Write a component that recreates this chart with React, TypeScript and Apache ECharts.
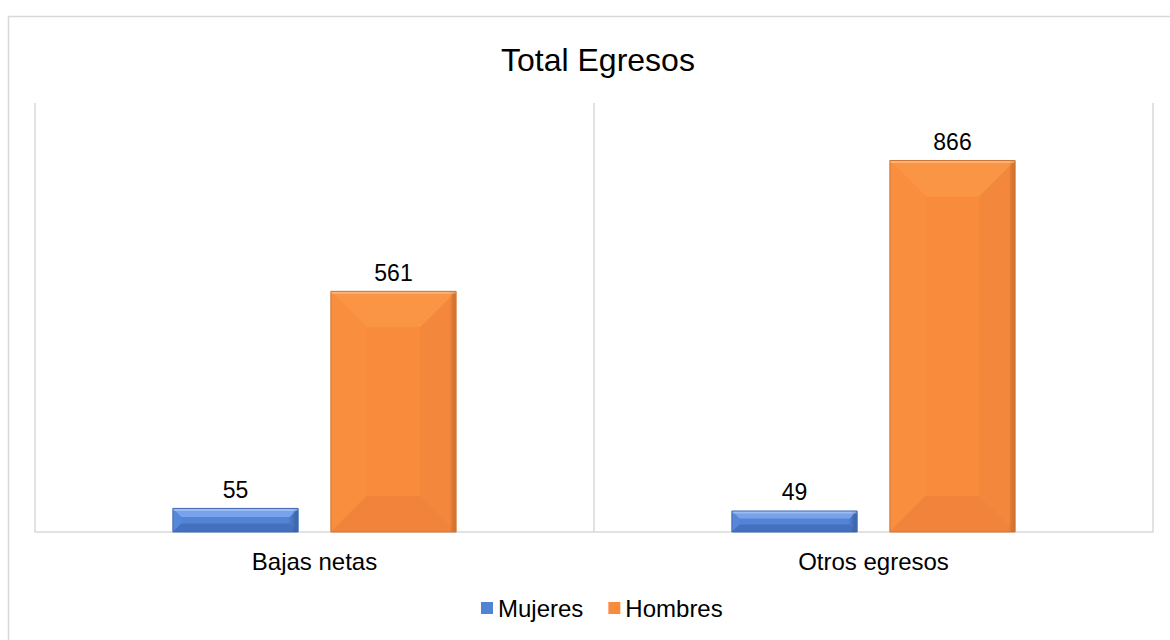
import React, { useEffect, useRef } from "react";
import * as echarts from "echarts";

const categories = ["Bajas netas", "Otros egresos"];
const mujeres = [55, 49];
const hombres = [561, 866];
const seriesNames = ["Mujeres", "Hombres"];

const palettes = [
  { main: "#5283d4", top: "#78a3ec", bottom: "#4370bf", left: "#5687d8", right: "#4a78c6", edge: "rgba(40,70,140,0.35)", stroke: "#4069b3" },
  { main: "#f98b3c", top: "#fb9546", bottom: "#f1833a", left: "#fa8e3f", right: "#f3873c", edge: "rgba(170,80,20,0.35)", stroke: "#cf7634" },
];

function makeRender(si: number) {
  return (params: any, api: any) => {
    const cat = api.value(0);
    const val = api.value(1);
    const top = api.coord([cat, val]);
    const base = api.coord([cat, 0]);
    const band = api.size([1, 0])[0];
    const w = band * 0.224;
    const off = band * 0.1413 * (si === 0 ? -1 : 1);
    const cx = top[0] + off;
    const x0 = cx - w / 2;
    const x1 = cx + w / 2;
    const y0 = top[1];
    const y1 = base[1];
    const h = y1 - y0;
    const d = Math.min(36, h * 0.36);
    const p = palettes[si];
    return {
      type: "group",
      children: [
        { type: "rect", shape: { x: x0, y: y0, width: w, height: h }, style: { fill: p.main } },
        { type: "polygon", shape: { points: [[x0, y0], [x0 + d, y0 + d], [x0 + d, y1 - d], [x0, y1]] }, style: { fill: p.left } },
        { type: "polygon", shape: { points: [[x1, y0], [x1 - d, y0 + d], [x1 - d, y1 - d], [x1, y1]] }, style: { fill: p.right } },
        { type: "polygon", shape: { points: [[x0, y0], [x1, y0], [x1 - d, y0 + d], [x0 + d, y0 + d]] }, style: { fill: p.top } },
        { type: "polygon", shape: { points: [[x0, y1], [x1, y1], [x1 - d, y1 - d], [x0 + d, y1 - d]] }, style: { fill: p.bottom } },
        {
          type: "rect",
          shape: { x: x1 - 6, y: y0, width: 6, height: h },
          style: {
            fill: new echarts.graphic.LinearGradient(0, 0, 1, 0, [
              { offset: 0, color: "rgba(0,0,0,0)" },
              { offset: 1, color: p.edge },
            ]),
          },
        },
        { type: "rect", shape: { x: x0, y: y0, width: w, height: 2.5 }, style: { fill: "rgba(255,255,255,0.28)" } },
        { type: "rect", shape: { x: x0, y: y0, width: w, height: h }, style: { fill: "none", stroke: p.stroke, lineWidth: 1 } },
        {
          type: "text",
          style: {
            text: String(val),
            x: cx,
            y: y0 - 7,
            align: "center",
            verticalAlign: "bottom",
            fill: "#000000",
            fontSize: 23,
            fontFamily: "Liberation Sans, Arial, sans-serif",
          },
        },
      ],
    };
  };
}

export default function App() {
  const ref = useRef<HTMLDivElement>(null);
  useEffect(() => {
    if (!ref.current) return;
    const chart = echarts.init(ref.current, undefined, { renderer: "svg" });
    const font = "Liberation Sans, Arial, sans-serif";
    chart.setOption({
      animation: false,
      backgroundColor: "#ffffff",
      title: {
        text: "Total Egresos",
        left: 496,
        top: 39,
        textStyle: { fontSize: 32, fontWeight: "normal", color: "#000000", fontFamily: font },
      },
      graphic: [
        {
          type: "rect",
          left: 6,
          top: 14,
          shape: { x: 0, y: 0, width: 1200, height: 700 },
          style: { fill: "none", stroke: "#d9d9d9", lineWidth: 1.5 },
          silent: true,
          z: -1,
        },
      ],
      legend: {
        top: 591,
        left: 476,
        itemWidth: 12,
        itemHeight: 12,
        itemGap: 25,
        icon: "rect",
        textStyle: { fontSize: 24, color: "#000000", fontFamily: font },
        data: seriesNames,
      },
      grid: { left: 35, right: 17, top: 103, bottom: 108 },
      xAxis: {
        type: "category",
        data: categories,
        axisLine: { show: true, lineStyle: { color: "#d9d9d9", width: 1.5 } },
        axisTick: { show: false },
        splitLine: { show: true, lineStyle: { color: "#d9d9d9", width: 1.5 } },
        axisLabel: { fontSize: 24, color: "#000000", margin: 17, fontFamily: font },
      },
      yAxis: {
        type: "value",
        min: 0,
        max: 1000,
        show: false,
        splitLine: { show: false },
      },
      series: [
        {
          type: "custom",
          name: seriesNames[0],
          itemStyle: { color: palettes[0].main },
          renderItem: makeRender(0),
          encode: { x: 0, y: 1 },
          data: mujeres.map((v, i) => [i, v]),
          z: 3,
        },
        {
          type: "custom",
          name: seriesNames[1],
          itemStyle: { color: palettes[1].main },
          renderItem: makeRender(1),
          encode: { x: 0, y: 1 },
          data: hombres.map((v, i) => [i, v]),
          z: 3,
        },
      ],
    });
    return () => chart.dispose();
  }, []);
  return (
    <div
      ref={ref}
      style={{ position: "absolute", left: 0, top: 0, width: 1170, height: 640 }}
    />
  );
}
